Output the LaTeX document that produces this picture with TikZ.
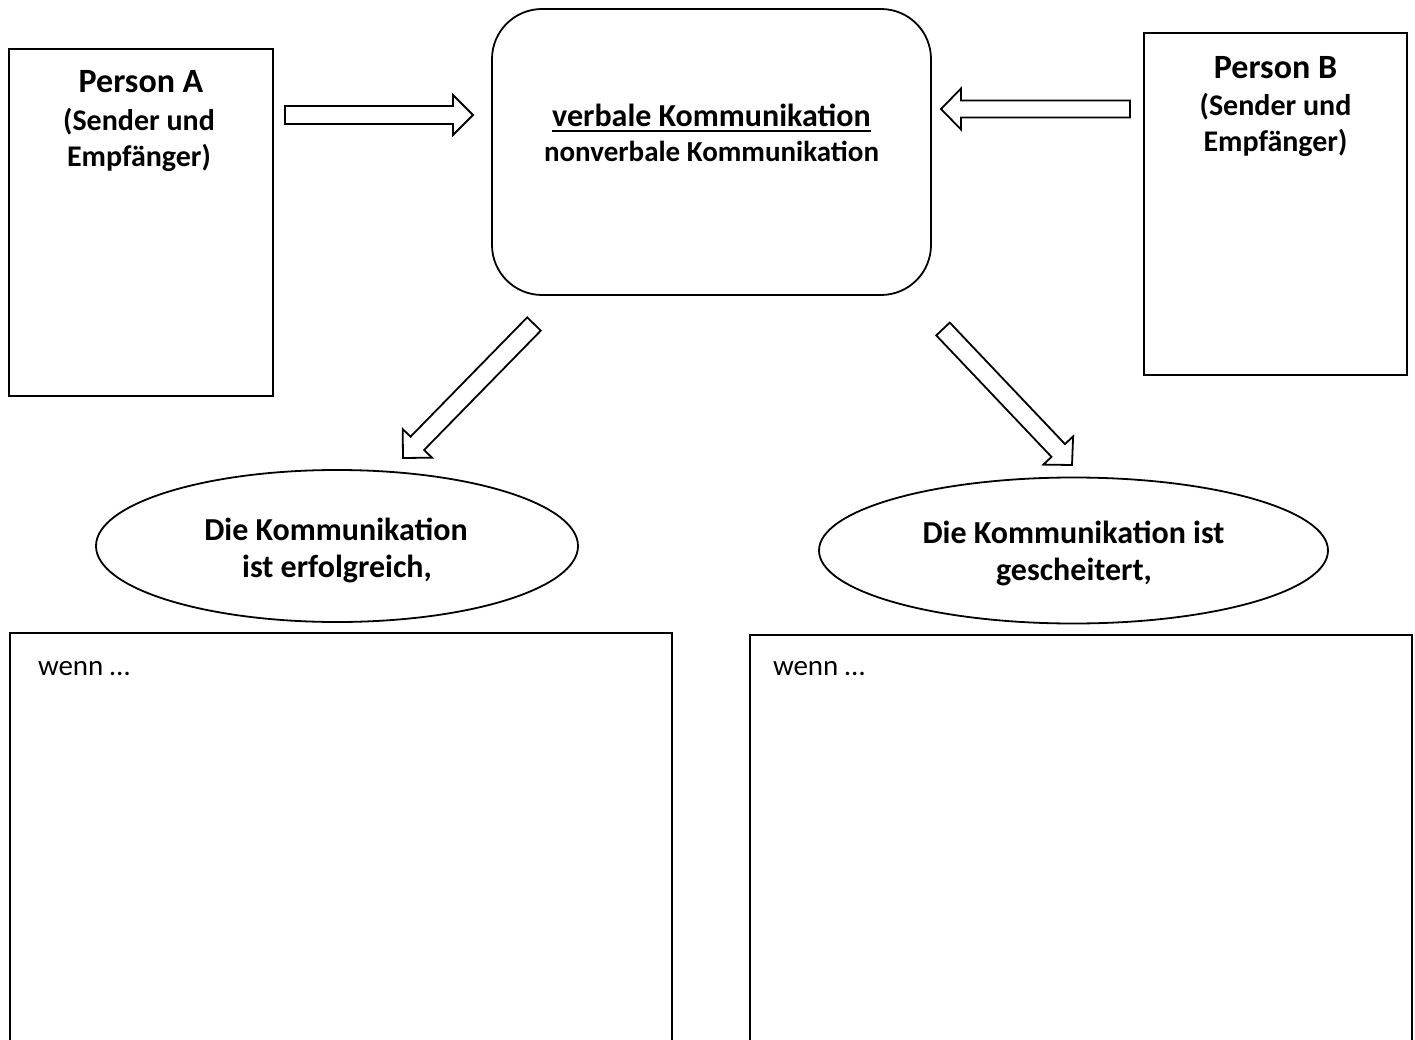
\documentclass[tikz,border=0pt]{standalone}
\usepackage{fontspec}
\setmainfont{Carlito}
\usetikzlibrary{calc,shapes.geometric}
\tikzset{
  outline/.style={draw=black, line width=1.8pt, fill=white},
  boxnode/.style={outline, rectangle, inner sep=0pt, outer sep=0pt},
  roundnode/.style={outline, rectangle, rounded corners=50pt, inner sep=0pt, outer sep=0pt},
  ellnode/.style={outline, ellipse, inner sep=0pt, outer sep=0pt},
  arrowshape/.style={draw=black, line width=1.8pt, fill=white, line join=miter},
  txt/.style={inner sep=0pt, outer sep=0pt, anchor=base},
  big/.style={font=\bfseries\fontsize{34}{40}\selectfont},
  mid/.style={font=\bfseries\fontsize{30}{36}\selectfont},
  main/.style={font=\bfseries\fontsize{32}{38}\selectfont},
  sub/.style={font=\bfseries\fontsize{29}{35}\selectfont},
  plain/.style={font=\fontsize{29}{34}\selectfont}
}
\newcommand\blockarrow[5]{%
  \coordinate (#1-h) at ($(#2)!#5!(#1)$);
  \draw[arrowshape] ($(#1)!#3!90:(#2)$) -- ($(#1-h)!#3!90:(#2)$) -- ($(#1-h)!#4!90:(#2)$) -- (#2)
     -- ($(#1-h)!#4!-90:(#2)$) -- ($(#1-h)!#3!-90:(#2)$) -- ($(#1)!#3!-90:(#2)$) -- cycle;
}
\begin{document}
\begin{tikzpicture}[x=1pt,y=-1pt]
\useasboundingbox[fill=white] (0,0) rectangle (1415,1040);

% boxes
\node[boxnode, minimum width=264pt, minimum height=347pt] (boxA) at (141,222.5) {};
\node[boxnode, minimum width=263pt, minimum height=342pt] (boxB) at (1275.5,204) {};
\node[roundnode, minimum width=439pt, minimum height=286pt] (center) at (711.5,152) {};
\node[ellnode, minimum width=482pt, minimum height=152pt] (ellL) at (337,546) {};
\node[ellnode, minimum width=509pt, minimum height=146pt] (ellR) at (1073.5,550.5) {};
\node[boxnode, minimum width=662pt, minimum height=410pt] (resL) at (341,838) {};
\node[boxnode, minimum width=662pt, minimum height=408pt] (resR) at (1081,839) {};

% texts
\node[txt, big] (pa1) at (141,93) {Person A};
\node[txt, mid] (pa2) at (139,131) {(Sender und};
\node[txt, mid] (pa3) at (139,167) {Empfänger)};
\node[txt, big] (pb1) at (1275.5,79) {Person B};
\node[txt, mid] (pb2) at (1275.5,116) {(Sender und};
\node[txt, mid] (pb3) at (1275.5,152) {Empfänger)};
\node[txt, main] (vk) at (711.5,127) {verbale Kommunikation};
\draw[line width=2pt] ([yshift=-4pt]vk.base west) -- ([yshift=-4pt]vk.base east);
\node[txt, sub] (nvk) at (711.5,162) {nonverbale Kommunikation};
\node[txt, main] (el1) at (336,540) {Die Kommunikation};
\node[txt, main] (el2) at (337,577) {ist erfolgreich,};
\node[txt, main] (er1) at (1073.5,543) {Die Kommunikation ist};
\node[txt, main] (er2) at (1074,580) {gescheitert,};
\node[txt, plain, anchor=base west] (wL) at (38,675) {wenn …};
\node[txt, plain, anchor=base west] (wR) at (773,675) {wenn …};

% block arrows
\coordinate (aRs) at (285,115);
\coordinate (aRe) at (473,115);
\coordinate (aLs) at (1130,109);
\coordinate (aLe) at (941,109);
\coordinate (aDLs) at (534,324);
\coordinate (aDLe) at (403,458);
\coordinate (aDRs) at (943,329);
\coordinate (aDRe) at (1072,465);
\blockarrow{aRs}{aRe}{9pt}{20pt}{20pt}
\blockarrow{aLs}{aLe}{8.5pt}{20.5pt}{20pt}
\blockarrow{aDLs}{aDLe}{9.5pt}{20.5pt}{20.5pt}
\blockarrow{aDRs}{aDRe}{9.3pt}{20.5pt}{20pt}
\end{tikzpicture}
\end{document}
